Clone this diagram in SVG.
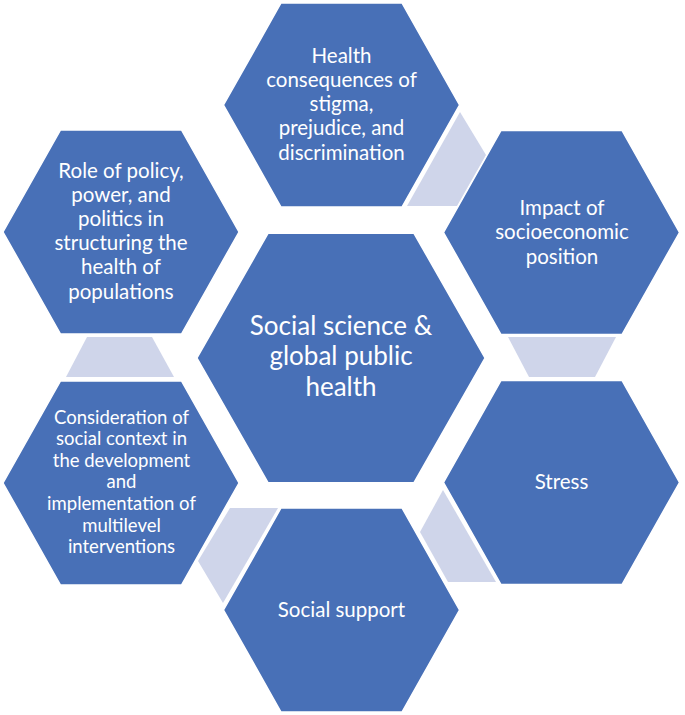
<svg xmlns="http://www.w3.org/2000/svg" width="685" height="715" viewBox="0 0 685 715">
<style>
.hex{fill:#4870B7;stroke:#ffffff;stroke-width:1.5}
.con{fill:#CFD5EA;stroke:none}
text{font-family:Lato,"Open Sans","Liberation Sans",sans-serif;fill:#ffffff;text-anchor:middle}
.t{font-size:20.5px}
.s{font-size:18.5px}
.c{font-size:26px}
</style>
<rect width="685" height="715" fill="#ffffff"/>
<g id="connectors">
<polygon class="con" points="460,112 486,155 457,206 407,206"/>
<polygon class="con" points="508,337 616,337 595,377 529,377"/>
<polygon class="con" points="443,490 420,532 448,582 496,582"/>
<polygon class="con" points="230,508 278,508 223,603 198,561"/>
<polygon class="con" points="87,337 152,337 174,377 66,377"/>
</g>
<g id="n-top">
<polygon class="hex" points="223.5,105 281,3 402,3 459.5,105 402,207 281,207"/>
<text class="t" x="341.5" y="62.5">Health</text>
<text class="t" x="341.5" y="86.5">consequences of</text>
<text class="t" x="341.5" y="110.5">stigma,</text>
<text class="t" x="341.5" y="135">prejudice, and</text>
<text class="t" x="341.5" y="159.5">discrimination</text>
</g>
<g id="n-topright">
<polygon class="hex" points="443.5,232.5 501,130.5 622,130.5 679.5,232.5 622,334.5 501,334.5"/>
<text class="t" x="562" y="214.5">Impact of</text>
<text class="t" x="562" y="239">socioeconomic</text>
<text class="t" x="562" y="263.5">position</text>
</g>
<g id="n-bottomright">
<polygon class="hex" points="443.5,482.5 501,380.5 622,380.5 679.5,482.5 622,584.5 501,584.5"/>
<text class="t" x="561.5" y="489">Stress</text>
</g>
<g id="n-bottom">
<polygon class="hex" points="223.5,610 281,508 402,508 459.5,610 402,712 281,712"/>
<text class="t" x="341.5" y="616.5">Social support</text>
</g>
<g id="n-bottomleft">
<polygon class="hex" points="3,483 60.5,381 181.5,381 239,483 181.5,585 60.5,585"/>
<text class="s" x="121.5" y="423.5">Consideration of</text>
<text class="s" x="121.5" y="445">social context in</text>
<text class="s" x="121.5" y="466.7">the development</text>
<text class="s" x="121.5" y="488.3">and</text>
<text class="s" x="121.5" y="510">implementation of</text>
<text class="s" x="121.5" y="531.7">multilevel</text>
<text class="s" x="121.5" y="553.3">interventions</text>
</g>
<g id="n-topleft">
<polygon class="hex" points="3,232 60.5,130 181.5,130 239,232 181.5,334 60.5,334"/>
<text class="t" x="121" y="177.5">Role of policy,</text>
<text class="t" x="121" y="201.5">power, and</text>
<text class="t" x="121" y="225.5">politics in</text>
<text class="t" x="121" y="250">structuring the</text>
<text class="t" x="121" y="274">health of</text>
<text class="t" x="121" y="298.5">populations</text>
</g>
<g id="n-center">
<polygon class="hex" points="197,358 268,233.3 414,233.3 485,358 414,482.7 268,482.7"/>
<text class="c" x="341" y="335">Social science &amp;</text>
<text class="c" x="341" y="365">global public</text>
<text class="c" x="341" y="396">health</text>
</g>
</svg>
